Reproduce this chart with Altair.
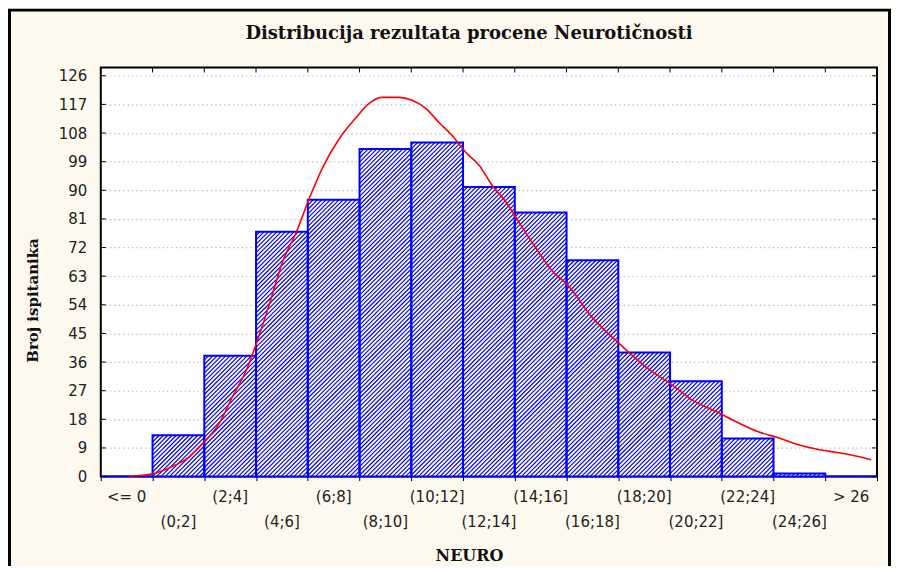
import altair as alt
import pandas as pd
import numpy as np

# ---------------- data ----------------
bin_labels = ["<= 0", "(0;2]", "(2;4]", "(4;6]", "(6;8]", "(8;10]", "(10;12]",
              "(12;14]", "(14;16]", "(16;18]", "(18;20]", "(20;22]", "(22;24]",
              "(24;26]", "> 26"]
bin_start = [-2, 0, 2, 4, 6, 8, 10, 12, 14, 16, 18, 20, 22, 24, 26]
bin_end = [0, 2, 4, 6, 8, 10, 12, 14, 16, 18, 20, 22, 24, 26, 28]
counts = [0, 13, 38, 77, 87, 103, 105, 91, 83, 68, 39, 30, 12, 1, 0]

curve_x = [-0.9, 0.0, 0.66, 1.43, 2.01, 2.59, 3.09, 3.63, 4.02, 4.52, 5.02, 5.56,
           6.06, 6.56, 7.22, 7.87, 8.37, 8.87, 9.53, 10.03, 10.57, 11.07, 11.57,
           12.11, 12.62, 13.12, 13.66, 14.16, 14.66, 15.59, 15.97, 16.97, 18.01,
           19.06, 20.06, 20.83, 21.87, 22.64, 23.41, 24.18, 24.96, 25.73, 26.5,
           27.27, 27.77]
curve_y = [0.1, 0.9, 2.8, 6.3, 11.0, 16.9, 25.1, 33.6, 42.0, 54.3, 67.4, 76.9,
           87.5, 96.9, 106.3, 112.9, 117.3, 119.2, 119.2, 118.3, 115.7, 111.3, 107.3,
           101.9, 97.9, 91.6, 86.3, 80.0, 73.7, 63.4, 60.9, 50.2, 42.0,
           34.5, 28.9, 24.2, 20.1, 16.9, 14.1, 12.2, 10.0, 8.5, 7.5,
           6.3, 5.3]

y_ticks = [0, 9, 18, 27, 36, 45, 54, 63, 72, 81, 90, 99, 108, 117, 126]
x_ticks = [-2, 0, 2, 4, 6, 8, 10, 12, 14, 16, 18, 20, 22, 24, 26, 28]

title_text = "Distribucija rezultata procene Neurotičnosti"
x_title = "NEURO"
y_title = "Broj ispitanika"

# ---------------- layout ----------------
W, H = 778, 410
X_DOM = [-2, 28]
Y_DOM = [0, 128.6]
BG = "#fdf9ee"
BLUE = "#0000ff"

bars = pd.DataFrame({"label": bin_labels, "start": bin_start, "end": bin_end,
                     "count": counts})
bars["mid"] = (bars["start"] + bars["end"]) / 2
bars["row"] = np.arange(len(bars)) % 2

# hatch pattern ("/" lines, 45 degrees on screen) clipped to each bar
sx = W / (X_DOM[1] - X_DOM[0])
sy = H / (Y_DOM[1] - Y_DOM[0])
spacing = 4.3
segs = []
for s, e, c in zip(bin_start, bin_end, counts):
    if c <= 0:
        continue
    Xa, Xb, Hh = (s - X_DOM[0]) * sx, (e - X_DOM[0]) * sx, c * sy
    k0 = int(np.floor((Xa - Hh) / spacing))
    k1 = int(np.ceil(Xb / spacing))
    for k in range(k0, k1 + 1):
        cc = k * spacing
        X0, X1 = max(Xa, cc), min(Xb, cc + Hh)
        if X1 - X0 > 0.4:
            segs.append({"x": X0 / sx + X_DOM[0], "y": (X0 - cc) / sy,
                         "x2": X1 / sx + X_DOM[0], "y2": (X1 - cc) / sy})
hatch = pd.DataFrame(segs)

curve = pd.DataFrame({"x": curve_x, "y": curve_y})
yt = pd.DataFrame({"v": y_ticks})
xt = pd.DataFrame({"v": x_ticks[1:-1]})

xscale = alt.Scale(domain=X_DOM, nice=False, zero=False)
yscale = alt.Scale(domain=Y_DOM, nice=False, zero=False)

x_axis = alt.Axis(values=x_ticks, labels=False, ticks=True, tickSize=4,
                  tickColor="black", tickWidth=1, domain=False, grid=False,
                  title=x_title, titleFont="DejaVu Serif", titleFontSize=16,
                  titleFontWeight="bold", titleColor="#111",
                  titleX=369, titleY=79, titleBaseline="middle", titleAlign="center")
y_axis = alt.Axis(values=y_ticks, ticks=False, domain=False, grid=True,
                  gridColor="#b4b4b4", gridDash=[1.2, 3.2], gridWidth=1.2,
                  labelFont="DejaVu Sans", labelFontSize=15, labelColor="#222",
                  labelPadding=14,
                  title=y_title, titleFont="DejaVu Serif", titleFontSize=15,
                  titleFontWeight="bold", titleColor="#111",
                  titleX=-68, titleY=233, titleAngle=-90,
                  titleBaseline="middle", titleAlign="center")


def X(f):
    return alt.X(f, scale=xscale, axis=x_axis)


def Y(f):
    return alt.Y(f, scale=yscale, axis=y_axis)


base_fill = alt.Chart(bars).mark_rect(fill="white", strokeWidth=0).encode(
    x=X("start:Q"), x2="end:Q", y=Y("count:Q"), y2=alt.datum(0),
)

hatch_layer = alt.Chart(hatch).mark_rule(color=BLUE, strokeWidth=1.2).encode(
    x=X("x:Q"), x2="x2:Q", y=Y("y:Q"), y2="y2:Q",
)

outline = alt.Chart(bars).mark_rect(fillOpacity=0, stroke=BLUE, strokeWidth=2).encode(
    x=X("start:Q"), x2="end:Q", y=Y("count:Q"), y2=alt.datum(0),
)

curve_layer = alt.Chart(curve).mark_line(color="#ff0000", strokeWidth=1.6,
                                         interpolate="monotone").encode(
    x=X("x:Q"), y=Y("y:Q"),
)

top_ticks = alt.Chart(xt).mark_rule(color="black", strokeWidth=1).encode(
    x=X("v:Q"), y=alt.value(0), y2=alt.value(5))
right_ticks = alt.Chart(yt).mark_rule(color="black", strokeWidth=1).encode(
    y=Y("v:Q"), x=alt.value(W - 5), x2=alt.value(W))
left_ticks = alt.Chart(yt).mark_rule(color="black", strokeWidth=1).encode(
    y=Y("v:Q"), x=alt.value(0), x2=alt.value(5))

lab_style = dict(font="DejaVu Sans", fontSize=15, color="#222", baseline="middle",
                 align="center")
labels_row1 = alt.Chart(bars[bars["row"] == 0]).mark_text(**lab_style).encode(
    x=X("mid:Q"), y=alt.value(H + 20), text="label:N")
labels_row2 = alt.Chart(bars[bars["row"] == 1]).mark_text(**lab_style).encode(
    x=X("mid:Q"), y=alt.value(H + 46), text="label:N")

one = pd.DataFrame({"t": [title_text]})
title_layer = alt.Chart(one).mark_text(
    font="DejaVu Serif", fontSize=18, fontWeight="bold", color="#111",
    align="center", baseline="middle").encode(
    x=alt.value(369), y=alt.value(-34), text="t:N")

frame = alt.Chart(one).mark_rect(
    fillOpacity=0, stroke="black", strokeWidth=3).encode(
    x=alt.value(-91.5), x2=alt.value(W + 12.5), y=alt.value(-57.5), y2=alt.value(H + 200))

chart = alt.layer(
    base_fill, hatch_layer, outline, curve_layer, top_ticks, right_ticks, left_ticks,
    labels_row1, labels_row2, title_layer, frame
).properties(
    width=W, height=H,
    padding={"left": 93, "top": 59, "right": 14, "bottom": 89},
    autosize=alt.AutoSizeParams(type="none"),
).configure(background=BG).configure_view(
    fill="white", stroke="black", strokeWidth=2
)

chart.save("out.html", embed_options={"renderer": "svg", "actions": False})
